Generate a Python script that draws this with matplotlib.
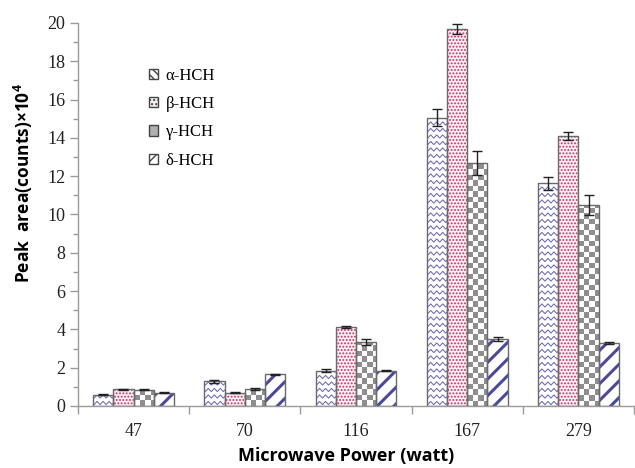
import numpy as np
import matplotlib
matplotlib.use('Agg')
import matplotlib.pyplot as plt
from matplotlib.patches import Patch
from matplotlib.lines import Line2D

# data
powers = ['47', '70', '116', '167', '279']
series = ['α-HCH', 'β-HCH', 'γ-HCH', 'δ-HCH']
alpha_vals = [0.60, 1.28, 1.85, 15.05, 11.63]
beta_vals = [0.88, 0.70, 4.12, 19.68, 14.10]
gamma_vals = [0.86, 0.90, 3.33, 12.68, 10.48]
delta_vals = [0.70, 1.66, 1.85, 3.52, 3.30]
alpha_err = [0.03, 0.08, 0.07, 0.45, 0.33]
beta_err = [0.03, 0.03, 0.07, 0.27, 0.20]
gamma_err = [0.05, 0.06, 0.15, 0.62, 0.52]
delta_err = [0.03, 0.03, 0.04, 0.10, 0.06]

plt.rcParams['mathtext.fontset'] = 'custom'
plt.rcParams['mathtext.rm'] = 'Open Sans:bold'
plt.rcParams['mathtext.bf'] = 'Open Sans:bold'

W, H = 635, 468
fig = plt.figure(figsize=(W / 100, H / 100), dpi=100)
ax = fig.add_axes([78 / W, 1 - 406 / H, 556 / W, 383 / H])

x = np.arange(len(powers))
bw = 0.182
offs = (np.arange(4) - 1.5) * bw
edge = '#6a6a6a'
navy = '#4a4a9c'

# px -> data units (fixed axes size)
px_x = 5.0 / 556
px_y = 20.0 / 383


def zigzag(bar):
    x0, w, h = bar.get_x(), bar.get_width(), bar.get_height()
    xs = np.arange(x0 - 2 * px_x, x0 + w + 4 * px_x, 3 * px_x)
    sign = np.where(np.arange(len(xs)) % 2 == 0, 1, -1)
    for y0 in np.arange(3 * px_y, h + 3 * px_y, 6.5 * px_y):
        ln = Line2D(xs, y0 + sign * 1.6 * px_y, color='#6a6ab4', lw=0.75, zorder=2.5)
        ax.add_line(ln)
        ln.set_clip_path(bar)


def checker(bar):
    x0, w, h = bar.get_x(), bar.get_width(), bar.get_height()
    cw, ch = 5.5 * px_x, 5.5 * px_y
    nc, nr = int(np.ceil(w / cw)), max(int(np.ceil(h / ch)), 1)
    board = (np.add.outer(np.arange(nr), np.arange(nc)) % 2).astype(float)
    im = ax.imshow(board, cmap=matplotlib.colors.ListedColormap(['white', '#8e8e8e']),
                   extent=(x0, x0 + nc * cw, 0, nr * ch), origin='lower',
                   aspect='auto', interpolation='nearest', zorder=2.5)
    im.set_clip_path(bar)


vals = [alpha_vals, beta_vals, gamma_vals, delta_vals]
errs = [alpha_err, beta_err, gamma_err, delta_err]

# alpha: zigzag
bars_a = ax.bar(x + offs[0], alpha_vals, bw, color='white', lw=0, zorder=2)
for b in bars_a:
    zigzag(b)
# beta: pink dots
with plt.rc_context({'hatch.linewidth': 0.9}):
    ax.bar(x + offs[1], beta_vals, bw, color='#fbeef3', edgecolor='#c8306a',
           hatch='.....', lw=0, zorder=2)
# gamma: checkerboard
bars_g = ax.bar(x + offs[2], gamma_vals, bw, color='white', lw=0, zorder=2)
for b in bars_g:
    checker(b)
# delta: thick diagonal stripes
with plt.rc_context({'hatch.linewidth': 2.2}):
    ax.bar(x + offs[3], delta_vals, bw, color='white', edgecolor=navy,
           hatch='//', lw=0, zorder=2)

for i in range(4):
    ax.bar(x + offs[i], vals[i], bw, fill=False, edgecolor=edge, lw=1.0, zorder=3)
    ax.errorbar(x + offs[i], vals[i], yerr=errs[i], fmt='none', ecolor='#222222',
                elinewidth=1.0, capsize=3.5, capthick=1.0, zorder=4)

ax.set_xlim(-0.5, 4.5)
ax.set_ylim(0, 20)

for s in ['top', 'right']:
    ax.spines[s].set_visible(False)
for s in ['left', 'bottom']:
    ax.spines[s].set_color('#9a9a9a')
    ax.spines[s].set_linewidth(1.0)

ax.set_yticks(np.arange(0, 21, 2))
ax.set_yticks(np.arange(0, 21, 1), minor=True)
ax.set_xticks(x)
ax.set_xticklabels(powers)
ax.set_xticks(np.arange(-0.5, 4.6, 1), minor=True)
ax.tick_params(axis='y', which='major', length=6, width=1, color='#9a9a9a', pad=3)
ax.tick_params(axis='y', which='minor', length=3.5, width=1, color='#9a9a9a')
ax.tick_params(axis='x', which='major', length=0, pad=12)
ax.tick_params(axis='x', which='minor', length=6, width=1, color='#9a9a9a')

for lab in ax.get_xticklabels() + ax.get_yticklabels():
    lab.set_fontfamily('Liberation Serif')
    lab.set_fontsize(13)
    lab.set_color('#222222')

ax.set_xlabel('Microwave Power (watt)', fontfamily='Open Sans', fontweight='bold',
              fontsize=13, labelpad=5, x=0.482)
ax.set_ylabel('Peak  area(counts)×10$^{4}$', fontfamily='Open Sans', fontweight='bold',
              fontsize=12.5, labelpad=9, y=0.582)

handles = [
    Patch(facecolor='white', edgecolor=navy, hatch='\\\\\\\\', lw=0),
    Patch(facecolor='#fbeef3', edgecolor='#c8306a', hatch='....', lw=0),
    Patch(facecolor='#b0b0b0', edgecolor='#555555', hatch='', lw=0),
    Patch(facecolor='white', edgecolor=navy, hatch='///', lw=0),
]
leg = ax.legend(handles, series, loc='upper left', bbox_to_anchor=(0.113, 0.905),
                frameon=False, borderpad=0, handlelength=0.55, handleheight=0.55,
                handletextpad=0.45, labelspacing=0.74,
                prop={'family': 'Liberation Serif', 'size': 12})
for p in leg.get_patches():
    p.set_linewidth(1.0)
    p.set_edgecolor('#444444')

fig.savefig('out.png', dpi=100)
